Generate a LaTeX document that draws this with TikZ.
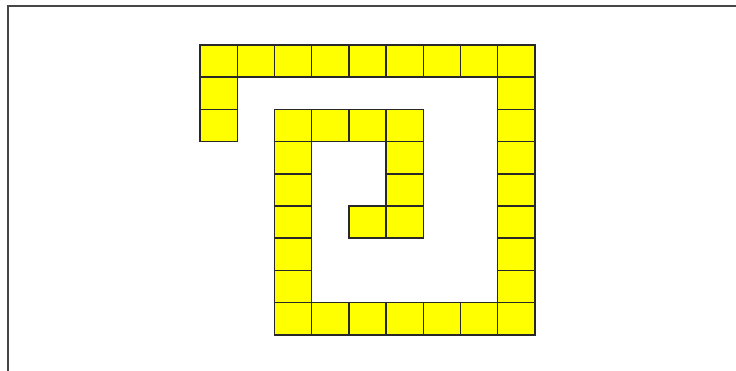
\documentclass[tikz,border=0pt]{standalone}
\usetikzlibrary{positioning, calc}
\definecolor{cellFill}{RGB}{255, 255, 0}
\definecolor{cellEdge}{RGB}{ 40,  40, 40}
\definecolor{frameEdge}{RGB}{ 70,  70, 70}
\tikzset{
  cell/.style={
    draw=cellEdge, fill=cellFill, line width=1.2pt,
    minimum width=1.116cm, minimum height=0.966cm,
    inner sep=0pt, outer sep=0pt,
  },
  frameline/.style={
    draw=frameEdge, line width=1.8pt,
  },
}
\newcommand{\cellw}{37.2}
\newcommand{\cellh}{32.2}

\begin{document}
\begin{tikzpicture}[x=0.03cm, y=-0.03cm]

% =========================================================================
% canvas and frame
% =========================================================================
\useasboundingbox (0,0) rectangle (736,371);
\coordinate (frame-bl) at (8,371);
\coordinate (frame-tl) at (8,6);
\coordinate (frame-tr) at (736,6);
\draw[frameline] (frame-bl) -- (frame-tl) -- (frame-tr);

% =========================================================================
% spiral of cells -- (column/row) on a 9 x 9 grid
% =========================================================================
\foreach \c/\r in {0/0, 1/0, 2/0, 3/0, 4/0, 5/0, 6/0, 7/0, 8/0,
                   0/1, 0/2,
                   8/1, 8/2, 8/3, 8/4, 8/5, 8/6, 8/7, 8/8,
                   2/8, 3/8, 4/8, 5/8, 6/8, 7/8,
                   2/2, 2/3, 2/4, 2/5, 2/6, 2/7,
                   3/2, 4/2, 5/2,
                   5/3, 5/4, 5/5,
                   4/5}{
  \node[cell] (cell-\c-\r) at ({200+\cellw*(\c+0.5)}, {45+\cellh*(\r+0.5)}) {};
}

\end{tikzpicture}
\end{document}
